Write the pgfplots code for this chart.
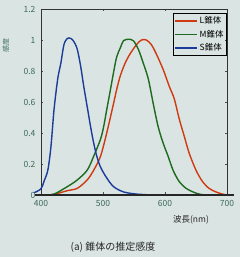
\documentclass[border=0pt]{standalone}
\usepackage{fontspec}
\setmainfont{Noto Sans CJK JP}
\usepackage{pgfplots}
\pgfplotsset{compat=1.18}
\definecolor{bg}{HTML}{DAE4E2}
\definecolor{lred}{HTML}{D03A12}
\definecolor{mgreen}{HTML}{1E6A1E}
\definecolor{sblue}{HTML}{1C3C9C}
\definecolor{tickc}{HTML}{3C6A58}
\begin{document}
\begin{tikzpicture}
\fill[bg] (0pt,0pt) rectangle (240pt,257pt);
\begin{axis}[
  at={(41pt,62pt)}, anchor=south west,
  width=186pt, height=186pt, scale only axis,
  xmin=400, xmax=700, ymin=0, ymax=1.2,
  clip=false,
  axis line style={draw=black!80, line width=0.6pt},
  xtick={400,500,600,700},
  ytick={0,0.2,0.4,0.6,0.8,1,1.2},
  yticklabels={0,0.2,0.4,0.6,0.8,1,1.2},
  tick align=inside,
  major tick length=2.5pt,
  tick style={draw=black!70, line width=0.5pt},
  /pgf/number format/assume math mode=true,
  ticklabel style={font=\fontsize{8.5}{9}\selectfont, text=tickc},
  xticklabel style={yshift=-2pt},
  yticklabel style={xshift=-2pt},
  legend style={at={(rel axis cs:1,0.978)}, anchor=north east, draw=black, line width=0.8pt, fill=none,
    font=\fontsize{8.5}{10}\selectfont, inner sep=1pt, row sep=1pt},
  legend cell align=left,
  legend image code/.code={\draw[#1, line width=1.4pt] (0pt,0pt) -- (22pt,0pt);},
]
\addplot[lred, line width=1.4pt, smooth] coordinates {
(405,0.0) (421,0.004) (442.5,0.028) (458.5,0.043) (474.5,0.097) (485,0.16) (496,0.25)
(506,0.40) (517,0.59) (522,0.68) (528,0.77) (535.6,0.85) (543.6,0.91) (554,0.97)
(562,1.0) (570,1.0) (578,0.97) (586,0.91) (597,0.81) (607,0.70) (615,0.62)
(623,0.49) (631,0.38) (639,0.27) (650,0.16) (660.6,0.086) (671,0.043) (682,0.02)
(692.5,0.006) (700,0.0)};
\addlegendentry{L錐体}
\addplot[mgreen, line width=1.4pt, smooth] coordinates {
(405,0.0) (421,0.006) (442.5,0.054) (458.5,0.097) (474.5,0.16) (485,0.25) (496,0.36)
(501,0.44) (506,0.55) (512,0.68) (517,0.79) (522,0.89) (528,0.95) (533,0.995)
(541,1.005) (549,0.995) (557,0.94) (565,0.85) (573,0.75) (581,0.59) (589,0.44)
(597,0.335) (605,0.25) (613,0.16) (623,0.086) (634,0.043) (645,0.02) (655,0.006) (665,0.0)};
\addlegendentry{M錐体}
\addplot[sblue, line width=1.4pt, smooth] coordinates {
(389,0.015) (400,0.04) (405,0.09) (411,0.16) (416,0.31) (421,0.55) (427,0.75)
(432,0.85) (437,0.97) (442.5,1.01) (448,1.01) (453,0.99) (458.5,0.94) (464,0.83)
(469,0.70) (474.5,0.57) (480,0.44) (485,0.335) (490,0.25) (496,0.18) (506,0.11)
(517,0.054) (533,0.02) (554,0.006) (580,0.0)};
\addlegendentry{S錐体}
\draw[black!85, line width=1.3pt] (rel axis cs:-0.03,0) -- (rel axis cs:1.04,0);
\end{axis}
\node[font=\fontsize{8.5}{9}\selectfont, text=black!85] at (191pt,37pt) {波長(nm)};
\node[font=\fontsize{7}{8}\selectfont, text=tickc, rotate=90] at (6pt,211pt) {感度};
\node[font=\fontsize{10}{11}\selectfont, text=black!85] at (113pt,10pt) {(a) 錐体の推定感度};
\pgfresetboundingbox
\path (0pt,0pt) rectangle (240pt,257pt);
\end{tikzpicture}
\end{document}
